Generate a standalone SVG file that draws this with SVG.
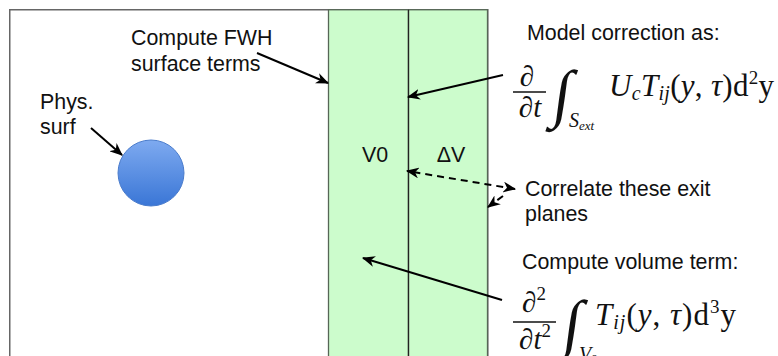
<svg xmlns="http://www.w3.org/2000/svg" width="778" height="356" viewBox="0 0 778 356">
<defs>
<linearGradient id="ball" x1="0" y1="0" x2="0" y2="1">
<stop offset="0" stop-color="#7eaaf0"/>
<stop offset="1" stop-color="#3a76d6"/>
</linearGradient>
<marker id="ah" viewBox="0 0 12 10" refX="11" refY="5" markerWidth="13" markerHeight="11" orient="auto-start-reverse" markerUnits="userSpaceOnUse">
<path d="M0,0 L12,5 L0,10 L3.5,5 Z" fill="#000"/>
</marker>
</defs>
<style>
.lbl{font-family:"Liberation Sans",Arial,sans-serif;font-size:21.4px;fill:#111}
.math{font-family:"Liberation Serif","DejaVu Serif",serif;fill:#111}
.it{font-style:italic}
.conn{stroke:#000;stroke-width:2;fill:none}
.dash{stroke-dasharray:7 5}
</style>
<rect width="778" height="356" fill="#fff"/>
<g id="domain">
<rect x="9.75" y="9.75" width="478" height="360" fill="#fff" stroke="#666" stroke-width="1.5"/>
</g>
<g id="strip-v0">
<rect x="328.5" y="9.75" width="80" height="360" fill="#ccfccc" stroke="#566656" stroke-width="1.3"/>
<text class="lbl" x="375" y="162" text-anchor="middle" font-size="19">V0</text>
</g>
<g id="strip-dv">
<rect x="408.5" y="9.75" width="79" height="360" fill="#ccfccc" stroke="#566656" stroke-width="1.3"/>
<line x1="408.5" y1="9.75" x2="408.5" y2="370" stroke="#222" stroke-width="1.2"/>
<text class="lbl" x="451" y="162" text-anchor="middle" font-size="19">ΔV</text>
</g>
<g id="phys-surf">
<circle cx="151" cy="173" r="33" fill="url(#ball)" stroke="#4a7ccc" stroke-width="1"/>
<text class="lbl" x="40" y="109">Phys.</text>
<text class="lbl" x="40" y="134">surf</text>
</g>
<g id="fwh-label">
<text class="lbl" x="131" y="45">Compute FWH</text>
<text class="lbl" x="131" y="71">surface terms</text>
</g>
<g id="model-correction">
<text class="lbl" x="527" y="40">Model correction as:</text>
<g class="math">
<text x="527" y="86" font-size="29" text-anchor="middle">∂</text>
<line x1="513" y1="92" x2="546" y2="92" stroke="#111" stroke-width="1.4"/>
<text x="530" y="117" font-size="29" text-anchor="middle">∂<tspan class="it">t</tspan></text>
<text transform="translate(551,115) skewX(-8)" font-size="64">∫</text>
<text x="569" y="127" font-size="20" class="it">S<tspan font-size="13" dy="3">ext</tspan></text>
<text x="609" y="96" font-size="31" letter-spacing="0.3"><tspan class="it">U</tspan><tspan class="it" font-size="20" dy="4">c</tspan><tspan class="it" dy="-4">T</tspan><tspan class="it" font-size="20" dy="4">ij</tspan><tspan dy="-4">(</tspan><tspan class="it">y</tspan>, <tspan class="it">τ</tspan>)d<tspan font-size="19" dy="-12">2</tspan><tspan dy="12">y</tspan></text>
</g>
</g>
<g id="correlate">
<text class="lbl" x="525" y="196">Correlate these exit</text>
<text class="lbl" x="525" y="221">planes</text>
</g>
<g id="volume-term">
<text class="lbl" x="522" y="269">Compute volume term:</text>
<g class="math">
<text x="534" y="312" font-size="29" text-anchor="middle">∂<tspan font-size="19" dy="-12">2</tspan></text>
<line x1="513" y1="322" x2="556" y2="322" stroke="#111" stroke-width="1.4"/>
<text x="535" y="349" font-size="29" text-anchor="middle">∂<tspan class="it">t</tspan><tspan font-size="19" dy="-12">2</tspan></text>
<text transform="translate(561,345) skewX(-8)" font-size="64">∫</text>
<text x="579" y="361" font-size="20" class="it">V<tspan font-size="13" dy="2" font-style="normal">0</tspan></text>
<text x="595" y="325" font-size="31" letter-spacing="1"><tspan class="it">T</tspan><tspan class="it" font-size="20" dy="4">ij</tspan><tspan dy="-4">(</tspan><tspan class="it">y</tspan>, <tspan class="it">τ</tspan>)d<tspan font-size="19" dy="-12">3</tspan><tspan dy="12">y</tspan></text>
</g>
</g>
<g id="connectors">
<line class="conn" x1="257" y1="53" x2="328" y2="83" marker-end="url(#ah)"/>
<line class="conn" x1="91" y1="128" x2="122" y2="155" marker-end="url(#ah)"/>
<line class="conn" x1="503" y1="75" x2="408" y2="97" marker-end="url(#ah)"/>
<line class="conn dash" x1="515" y1="189" x2="407" y2="171" marker-start="url(#ah)" marker-end="url(#ah)"/>
<line class="conn dash" x1="503" y1="196" x2="488" y2="207" marker-end="url(#ah)"/>
<line class="conn" x1="502" y1="300" x2="363" y2="258" marker-end="url(#ah)"/>
</g>
</svg>
